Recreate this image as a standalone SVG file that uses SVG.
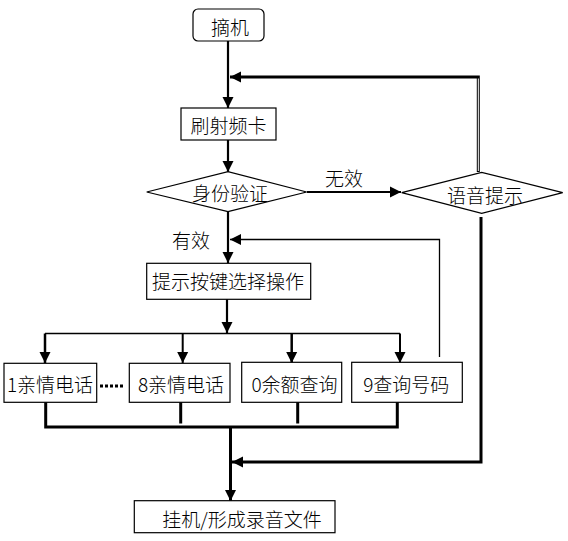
<svg xmlns="http://www.w3.org/2000/svg" width="568" height="541" viewBox="0 0 568 541">
<defs>
<style>
.box{fill:#fff;stroke:#000;stroke-width:1.2}
.t{font-family:"Noto Sans CJK SC","DejaVu Sans",sans-serif;font-size:19px;font-weight:300;fill:#000;text-anchor:middle;dominant-baseline:central}
.ln{fill:none;stroke:#000}
</style>
<marker id="ah" markerUnits="userSpaceOnUse" markerWidth="12" markerHeight="12" viewBox="0 0 12 12" refX="11" refY="6" orient="auto">
<path d="M0,0.5 L11,6 L0,11.5 Z" fill="#000"/>
</marker>
</defs>
<rect width="568" height="541" fill="#fff"/>
<g id="connectors">
<line class="ln" stroke-width="2.2" x1="228" y1="41" x2="228" y2="108" marker-end="url(#ah)"/>
<line class="ln" stroke-width="2.2" x1="228" y1="140" x2="228" y2="172" marker-end="url(#ah)"/>
<line class="ln" stroke-width="2.2" x1="228" y1="212" x2="228" y2="263" marker-end="url(#ah)"/>
<line class="ln" stroke-width="2" x1="307" y1="192" x2="401" y2="192" marker-end="url(#ah)"/>
<polyline class="ln" stroke-width="3" points="478.3,172 478.3,77 230,77" marker-end="url(#ah)"/>
<line stroke="#fff" stroke-width="1" x1="478.3" y1="171" x2="478.3" y2="78.5"/>
<polyline class="ln" stroke-width="3" points="481,217 481,462 232,462" marker-end="url(#ah)"/>
<polyline class="ln" stroke-width="1.3" points="439.5,357 439.5,239.5 230,239.5" marker-end="url(#ah)"/>
<line class="ln" stroke-width="2.2" x1="227" y1="299" x2="227" y2="333" marker-end="url(#ah)"/>
<line class="ln" stroke-width="1.5" x1="45" y1="333.5" x2="400" y2="333.5"/>
<line class="ln" stroke-width="2.5" x1="45" y1="333.5" x2="45" y2="363" marker-end="url(#ah)"/>
<line class="ln" stroke-width="2" x1="182.7" y1="333.5" x2="182.7" y2="363" marker-end="url(#ah)"/>
<line class="ln" stroke-width="2.5" x1="291.7" y1="333.5" x2="291.7" y2="363" marker-end="url(#ah)"/>
<line class="ln" stroke-width="2" x1="400" y1="333.5" x2="400" y2="363" marker-end="url(#ah)"/>
<line class="ln" stroke-width="3" stroke-dasharray="3,2" x1="100" y1="386" x2="124" y2="386"/>
<polyline class="ln" stroke-width="3" points="45.7,402 45.7,427 397.3,427 397.3,402"/>
<line class="ln" stroke-width="3" x1="180.7" y1="402" x2="180.7" y2="423.5"/>
<line class="ln" stroke-width="3" x1="297.7" y1="402" x2="297.7" y2="423.5"/>
<line class="ln" stroke-width="3" x1="230.5" y1="427" x2="230.5" y2="501" marker-end="url(#ah)"/>
</g>
<g id="n1"><rect class="box" x="193" y="9" width="71" height="32" rx="5"/><text class="t" x="230" y="26">摘机</text></g>
<g id="n2"><rect class="box" x="181" y="108" width="95" height="32"/><text class="t" x="228.5" y="124.5">刷射频卡</text></g>
<g id="n3"><polygon class="box" points="146.7,192 228,171.7 306.7,192 228,211.7"/><text class="t" x="230" y="192">身份验证</text></g>
<g id="n4"><polygon class="box" points="401.7,192.7 481.7,172.3 562.7,192.7 481.7,213.3"/><text class="t" x="485" y="194">语音提示</text></g>
<g id="l1"><text class="t" x="344" y="177.5">无效</text></g>
<g id="l2"><text class="t" x="191" y="239">有效</text></g>
<g id="n5"><rect class="box" x="146.7" y="263.3" width="164" height="36"/><text class="t" x="228" y="280.5">提示按键选择操作</text></g>
<g id="n6"><rect class="box" x="4" y="363.3" width="92.7" height="39"/><text class="t" x="50" y="383">1亲情电话</text></g>
<g id="n7"><rect class="box" x="129.3" y="363.3" width="100.7" height="39"/><text class="t" x="181" y="383">8亲情电话</text></g>
<g id="n8"><rect class="box" x="241.7" y="362.3" width="100" height="40"/><text class="t" x="294.5" y="383">0余额查询</text></g>
<g id="n9"><rect class="box" x="351.7" y="362.3" width="110.6" height="40"/><text class="t" x="406.3" y="383">9查询号码</text></g>
<g id="n10"><rect class="box" x="134.3" y="500.7" width="200.7" height="32"/><text class="t" x="242" y="518">挂机/形成录音文件</text></g>
</svg>
